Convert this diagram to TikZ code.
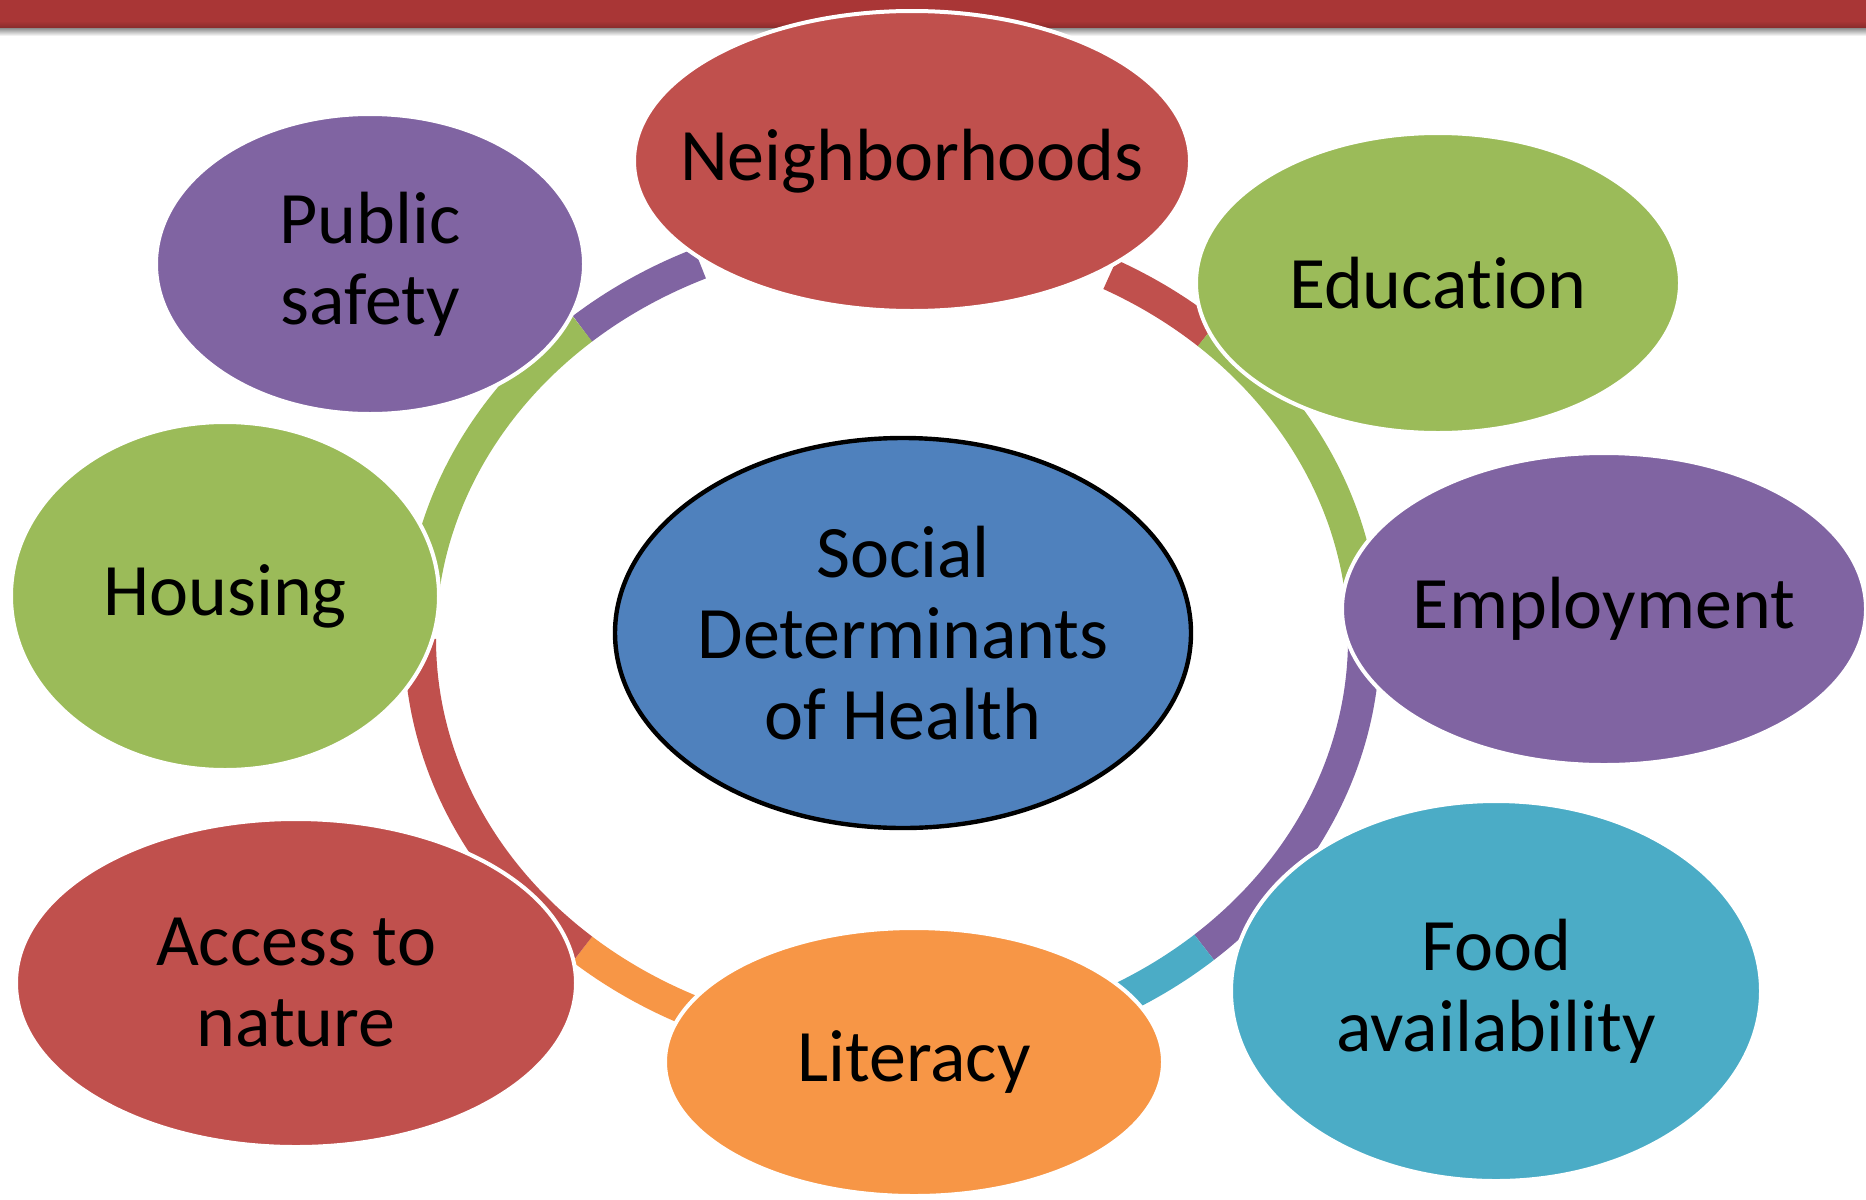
\documentclass[tikz,border=0pt]{standalone}
\usepackage{fontspec}
\setmainfont[Ligatures={NoCommon}]{Carlito}
\usetikzlibrary{shapes.geometric}
\definecolor{cred}{HTML}{C0504D}
\definecolor{cgreen}{HTML}{9BBB59}
\definecolor{cpurple}{HTML}{8064A2}
\definecolor{cteal}{HTML}{4BACC6}
\definecolor{corange}{HTML}{F79646}
\definecolor{cblue}{HTML}{4F81BD}
\definecolor{cbar}{HTML}{A93636}
\begin{document}
\begin{tikzpicture}[x=0.5pt,y=-0.5pt,
  bub/.style={ellipse, draw=white, line width=2pt, inner sep=0pt},
  lab/.style={font=\fontsize{37}{40.5}\selectfont, align=center, text=black, inner sep=0pt},
  seg/.style={line width=16pt, line cap=butt}]
\useasboundingbox (0,0) rectangle (1866,1199);
\fill[white] (0,0) rectangle (1866,1199);
% top bar
\fill[cbar] (0,0) rectangle (1866,22);
\shade[top color=cbar, bottom color=cbar!80!black] (0,21) rectangle (1866,28);
\shade[top color=black!45, bottom color=white] (0,28) rectangle (1866,36);
% ring segments
\def\ringseg#1#2#3{\draw[seg,#1] plot[domain=#2:#3, samples=50, smooth] ({892+472*cos(\x)},{639+411*sin(\x)});}
\ringseg{cpurple}{229}{246}
\ringseg{cred}{297.5}{312}
\ringseg{cgreen}{312}{352}
\ringseg{cpurple}{-2}{48.6}
\ringseg{cteal}{48.6}{62}
\ringseg{corange}{110}{131}
\ringseg{cred}{131}{180}
\ringseg{cgreen}{186}{229}
% satellites
\node[bub, fill=cred, minimum width=278pt, minimum height=150pt] (nbh) at (912,161) {};
\node[lab] (nbhT) at (nbh.center) {Neighborhoods};
\node[bub, fill=cpurple, minimum width=214pt, minimum height=150pt] (pub) at (370,264) {};
\node[lab] (pubT) at (pub.center) {Public\\safety};
\node[bub, fill=cgreen, minimum width=242pt, minimum height=150pt] (edu) at (1438,283) {};
\node[lab] (eduT) at (edu.center) {Education};
\node[bub, fill=cgreen, minimum width=214pt, minimum height=174pt] (hou) at (225,596) {};
\node[lab] (houT) at (hou.center) {Housing};
\node[bub, fill=cpurple, minimum width=262pt, minimum height=156pt] (emp) at (1604,609) {};
\node[lab] (empT) at (emp.center) {Employment};
\node[bub, fill=cred, minimum width=280pt, minimum height=164pt] (acc) at (296,983) {};
\node[lab] (accT) at (acc.center) {Access to\\nature};
\node[bub, fill=corange, minimum width=249pt, minimum height=134pt] (lit) at (914,1062) {};
\node[lab] (litT) at (lit.center) {Literacy};
\node[bub, fill=cteal, minimum width=265pt, minimum height=190pt] (food) at (1496,991) {};
\node[lab] (foodT) at (food.center) {Food\\availability};
% centre
\node[ellipse, draw=black, line width=2.2pt, fill=cblue, inner sep=0pt, minimum width=288pt, minimum height=195pt] (ctr) at (903,633) {};
\node[lab] (ctrT) at (ctr.center) {Social\\Determinants\\of Health};
\end{tikzpicture}
\end{document}
